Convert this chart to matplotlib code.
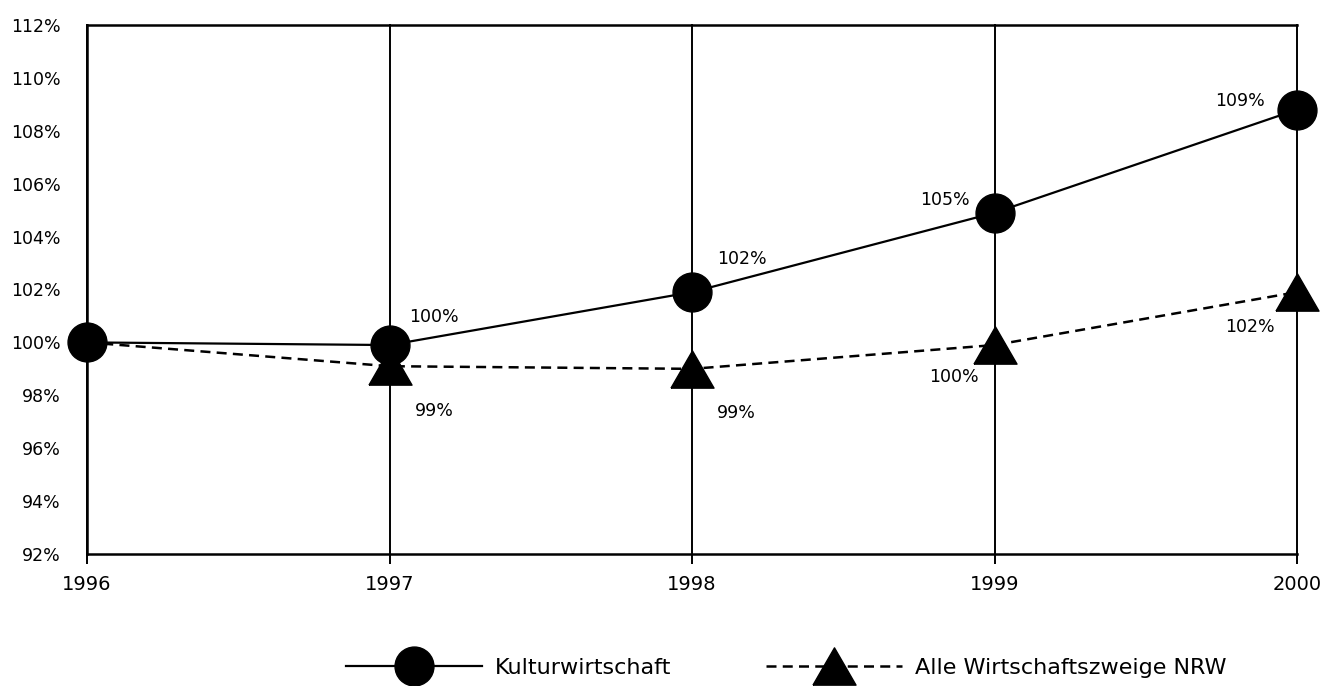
import matplotlib
matplotlib.use("Agg")
import matplotlib.pyplot as plt
from matplotlib.ticker import FuncFormatter

# Index of employment development, 1996 = 100%
years = [1996, 1997, 1998, 1999, 2000]
kultur = [100.0, 99.9, 101.9, 104.9, 108.8]
alle = [100.0, 99.1, 99.0, 99.9, 101.9]
series_names = ["Kulturwirtschaft", "Alle Wirtschaftszweige NRW"]
y_ticks = list(range(92, 113, 2))

# label offsets in points (dx, dy) for each annotated point
kultur_offsets = [None, (32, 20), (36, 24), (-36, 9), (-41, 6)]
alle_offsets = [None, (32, -32), (32, -32), (-29, -23), (-34, -25)]

plt.rcParams["font.family"] = ["DejaVu Sans"]

W, H = 1327, 686
fig = plt.figure(figsize=(W / 100, H / 100), dpi=100)
ax = fig.add_axes([0.0656, 0.1924, 0.9774 - 0.0656, 0.9636 - 0.1924])

ax.set_xlim(years[0], years[-1])
ax.set_ylim(y_ticks[0], y_ticks[-1])

# vertical year lines
for yr in years:
    ax.axvline(yr, color="black", lw=1.4, zorder=1, clip_on=False)

# triangle marker with equilateral proportions
tri = [(-1.0, -0.866), (1.0, -0.866), (0.0, 0.866), (-1.0, -0.866)]

# the common base year carries only the circle marker
line_alle, = ax.plot(years, alle, color="black", lw=1.8, ls=(0, (4, 2.5)),
                     marker=tri, markersize=31, markerfacecolor="black",
                     markeredgecolor="black", markevery=list(range(1, len(years))),
                     clip_on=False, zorder=3, label=series_names[1])
line_kultur, = ax.plot(years, kultur, color="black", lw=1.6, ls="-",
                       marker="o", markersize=28, markerfacecolor="black",
                       markeredgecolor="black", clip_on=False, zorder=4,
                       label=series_names[0])

for x, v, off in zip(years, kultur, kultur_offsets):
    if off is None:
        continue
    ax.annotate(f"{v:.0f}%", (x, v), xytext=off, textcoords="offset points",
                ha="center", va="center", fontsize=12.5, zorder=5)
for x, v, off in zip(years, alle, alle_offsets):
    if off is None:
        continue
    ax.annotate(f"{v:.0f}%", (x, v), xytext=off, textcoords="offset points",
                ha="center", va="center", fontsize=12.5, zorder=5)

ax.set_xticks(years)
ax.set_xticklabels([str(y) for y in years])
ax.set_yticks(y_ticks)
ax.yaxis.set_major_formatter(FuncFormatter(lambda v, p: f"{v:.0f}%"))
ax.tick_params(axis="y", length=0, pad=19, labelsize=12.5)
ax.tick_params(axis="x", length=7, width=1.4, direction="out", pad=8,
               labelsize=14)

for side in ["left", "bottom", "top"]:
    ax.spines[side].set_linewidth(1.8)
ax.spines["right"].set_visible(False)

# one legend entry per series, placed side by side below the plot
legend_kw = dict(loc="center left", frameon=False, fontsize=16,
                 handlelength=6.1, handletextpad=0.6, borderpad=0,
                 borderaxespad=0)
fig.legend([line_kultur], [series_names[0]],
           bbox_to_anchor=(346 / W, 1 - 668 / H), **legend_kw)
fig.legend([line_alle], [series_names[1]],
           bbox_to_anchor=(766 / W, 1 - 668 / H), **legend_kw)

fig.savefig("out.png", dpi=100, facecolor="white")
